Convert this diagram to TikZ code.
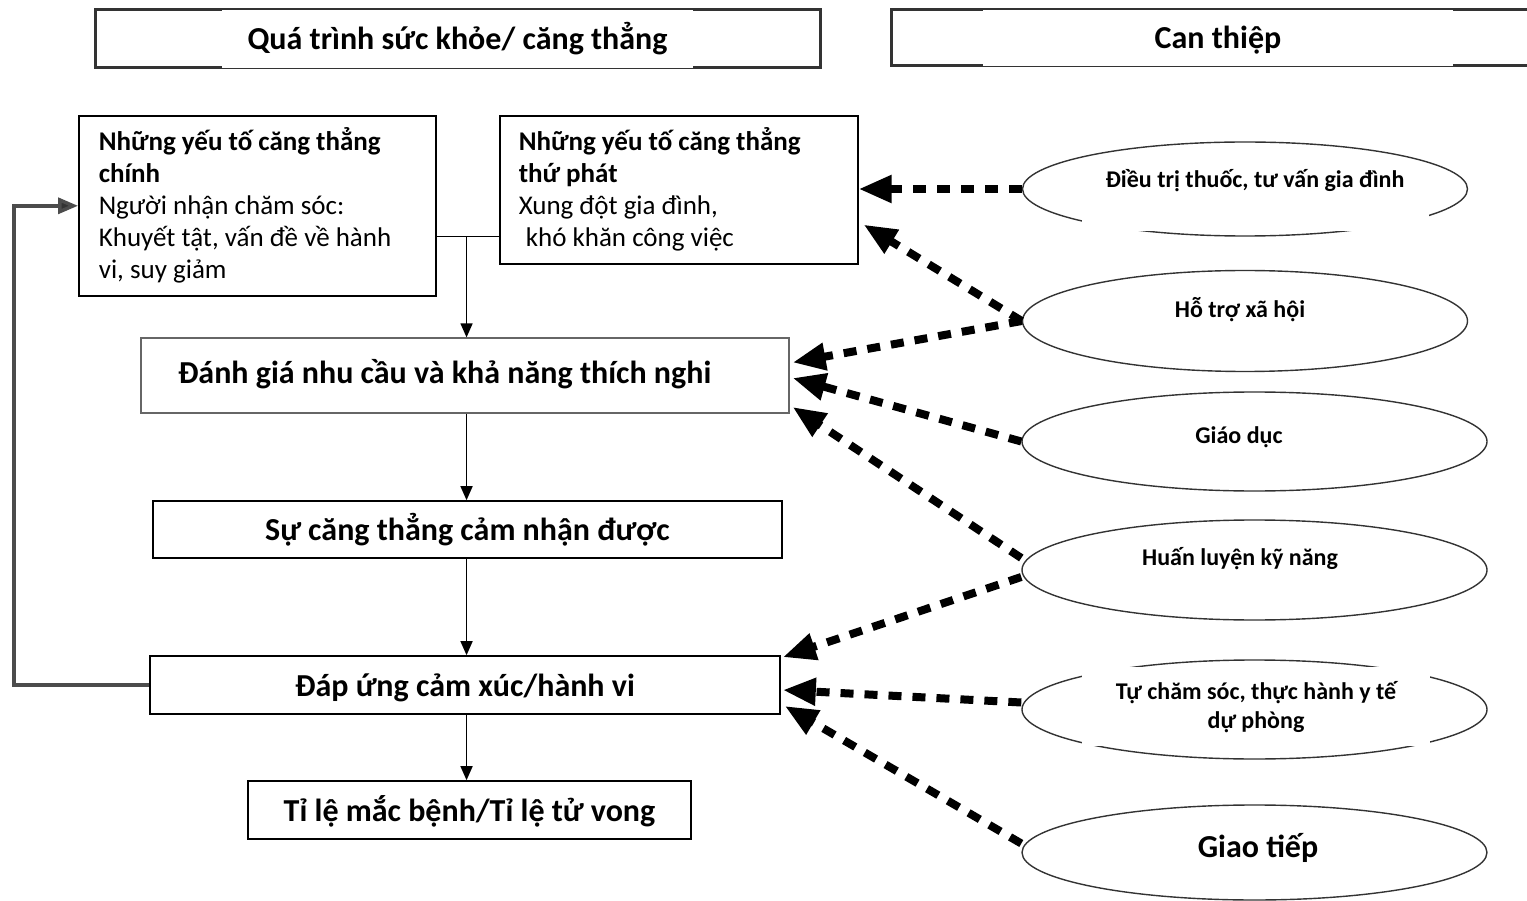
\documentclass[tikz,border=0pt]{standalone}
\usepackage{fontspec}
\setmainfont{Carlito}
\usetikzlibrary{arrows.meta,shapes.geometric,calc}

\begin{document}
\begin{tikzpicture}[x=1pt,y=-1pt,
  box/.style={draw=black,line width=1.6pt,fill=white,inner sep=0pt},
  ttl/.style={font=\bfseries\fontsize{32}{38}\selectfont,text height=27pt,text depth=5pt},
  body/.style={font=\fontsize{27}{32}\selectfont},
  oval/.style={draw=black!80,line width=1.4pt,ellipse,inner sep=0pt},
  otext/.style={font=\bfseries\fontsize{24}{29}\selectfont,align=center,inner sep=0pt},
  flow/.style={line width=1.4pt,-{Triangle[length=14pt,width=12pt]}},
  fback/.style={line width=3.5pt,draw=black!70,line join=miter,-{Triangle[length=20pt,width=16pt,fill=black!80]}},
  intv/.style={line width=8pt,dash pattern=on 13pt off 11pt,-{Triangle[length=33pt,width=26pt]}},
  hdr/.style={line width=3pt,draw=black!80},
  patch/.style={fill=white,inner sep=0pt},
]
\useasboundingbox (0,0) rectangle (1527,901);

% column headers
\draw[hdr] (95,10) rectangle (820,68);
\node[patch,ttl,minimum width=471pt,minimum height=58pt] (h1) at (457.5,39) {Quá trình sức khỏe/ căng thẳng};
\draw[hdr] (1535,10) -- (891,10) -- (891,66) -- (1535,66);
\node[patch,ttl,minimum width=470pt,minimum height=56pt] (h2) at (1218,38) {Can thiệp};

% stress process boxes
\node[box,body,text width=317pt,align=flush left,inner xsep=20pt,minimum height=180pt,anchor=north west] (A) at (78,115)
  {\textbf{Những yếu tố căng thẳng}\\ \textbf{chính}\\ Người nhận chăm sóc:\\ Khuyết tật, vấn đề về hành\\ vi, suy giảm};
\node[box,body,text width=320pt,align=flush left,inner xsep=19pt,minimum height=148pt,anchor=north west] (B) at (499,115)
  {\textbf{Những yếu tố căng thẳng}\\ \textbf{thứ phát}\\ Xung đột gia đình,\\ \hspace*{7pt}khó khăn công việc};
\node[box,ttl,text height=24pt,text depth=8pt,draw=black!60,line width=1.2pt,text width=574pt,align=flush left,inner xsep=37pt,minimum height=75pt] (C) at (465,375.5)
  {Đánh giá nhu cầu và khả năng thích nghi};
\node[box,ttl,minimum width=629pt,minimum height=57pt] (D) at (467.5,529.5) {Sự căng thẳng cảm nhận được};
\node[box,ttl,minimum width=630pt,minimum height=58pt] (E) at (465,685) {Đáp ứng cảm xúc/hành vi};
\node[box,ttl,minimum width=443pt,minimum height=58pt] (F) at (469.5,810) {Tỉ lệ mắc bệnh/Tỉ lệ tử vong};

% solid flow
\draw[line width=1.4pt] ([yshift=-31pt]A.east) -- coordinate[pos=0.48] (j) ([yshift=-47pt]B.west);
\draw[flow] (j) -- (j |- C.north);
\draw[flow] (j |- C.south) -- (j |- D.north);
\draw[flow] (j |- D.south) -- (j |- E.north);
\draw[flow] (j |- E.south) -- (j |- F.north);
\draw[fback] (E.west) -- ++(-135,0) |- (A.west);

% interventions
\node[oval,minimum width=445pt,minimum height=94pt] (e1) at (1245,189) {};
\node[oval,minimum width=445pt,minimum height=101pt] (e2) at (1245,321) {};
\node[oval,minimum width=465pt,minimum height=99pt] (e3) at (1254.5,441.5) {};
\node[oval,minimum width=465pt,minimum height=100pt] (e4) at (1254.5,570) {};
\node[oval,minimum width=465pt,minimum height=99pt] (e5) at (1254.5,709.5) {};
\node[oval,minimum width=465pt,minimum height=95pt] (e6) at (1254.5,852.5) {};
\fill[white] (1082,205) rectangle (1429,231);
\fill[white] (1082,667) rectangle (1430,746);

\node[otext] (t1) at (1255,181) {Điều trị thuốc, tư vấn gia đình};
\node[otext] (t2) at (1240,310) {Hỗ trợ xã hội};
\node[otext] (t3) at (1239,437) {Giáo dục};
\node[otext] (t4) at (1240,559) {Huấn luyện kỹ năng};
\node[otext] (t5) at (1256,707) {Tự chăm sóc, thực hành y tế\\dự phòng};
\node[otext,font=\bfseries\fontsize{32}{38}\selectfont] (t6) at (1258,848) {Giao tiếp};

% dashed intervention arrows
\draw[intv] (e1.west) -- (B.east |- e1.west);
\draw[intv] (e2.west) -- ([xshift=5pt,yshift=40pt]B.south east);
\draw[intv] (e2.west) -- ([xshift=3pt,yshift=13pt]C.east);
\draw[intv] (e3.west) -- ([xshift=3pt,yshift=-2.5pt]C.east);
\draw[intv] ([yshift=12pt]e4.west) -- ([xshift=3pt,yshift=-31.5pt]C.east);
\draw[intv] ([yshift=-7pt]e4.west) -- ([xshift=2pt,yshift=-2pt]E.north east);
\draw[intv] ([yshift=7pt]e5.west) -- ([xshift=2pt,yshift=-5pt]E.east);
\draw[intv] ([yshift=9pt]e6.west) -- ([xshift=4pt,yshift=-21pt]E.east);
\end{tikzpicture}
\end{document}
